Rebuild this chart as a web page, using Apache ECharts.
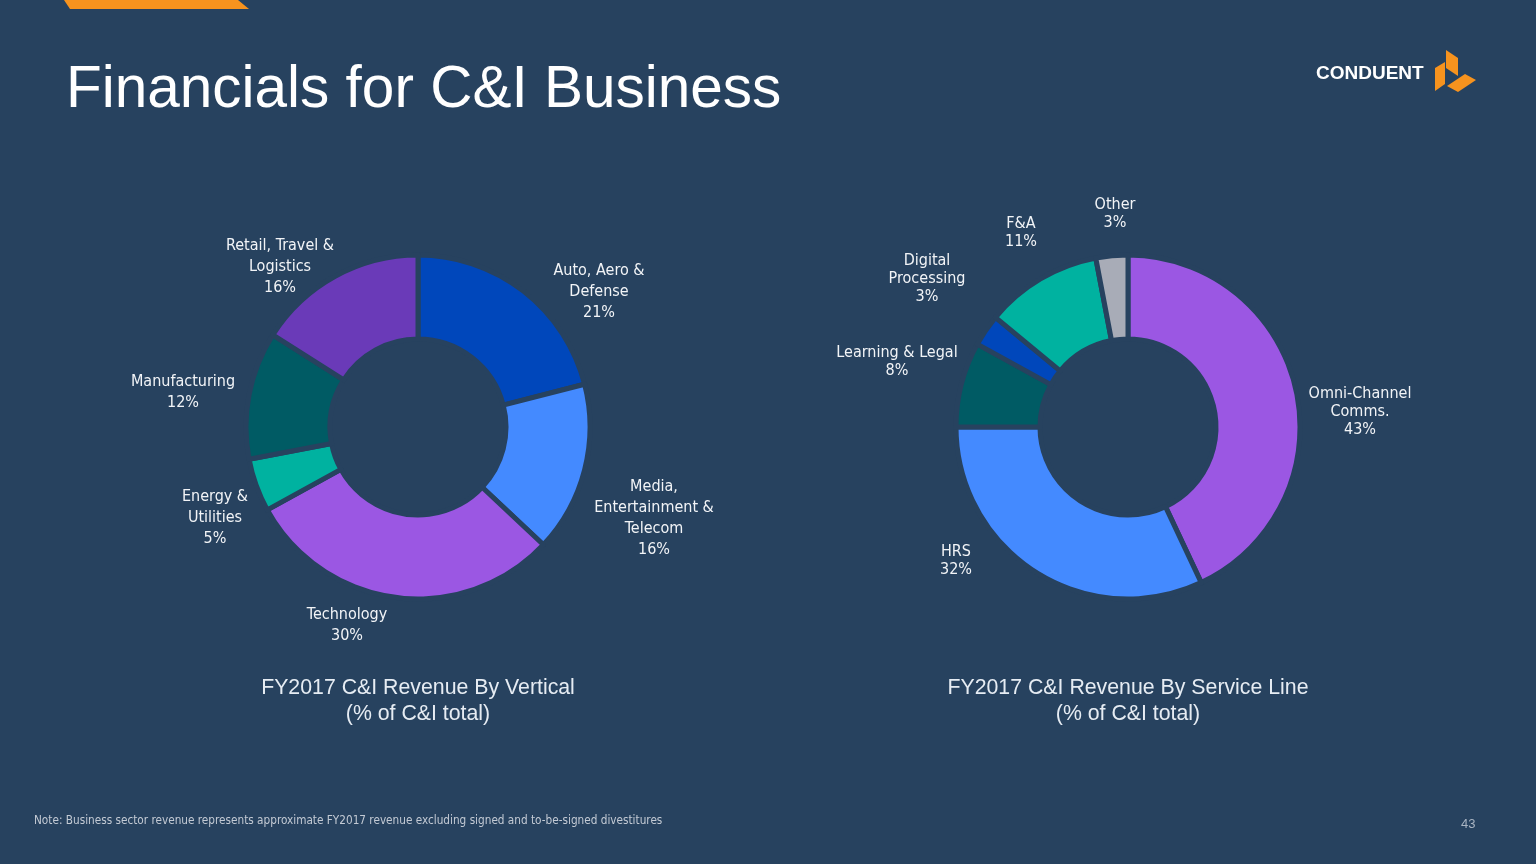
<!DOCTYPE html>
<html>
<head>
<meta charset="utf-8">
<style>
  html, body { margin: 0; padding: 0; background: #27425f; }
  #chart { width: 1536px; height: 864px; }
</style>
<script src="https://cdn.jsdelivr.net/npm/echarts@6/dist/echarts.min.js"></script>
</head>
<body>
<div id="chart"></div>
<script>
// ---- Data ----
const verticalCategories = ['Auto, Aero &\nDefense', 'Media,\nEntertainment &\nTelecom', 'Technology', 'Energy &\nUtilities', 'Manufacturing', 'Retail, Travel &\nLogistics'];
const verticalValues = [21, 16, 30, 5, 12, 16];
const serviceCategories = ['Omni-Channel\nComms.', 'HRS', 'Learning & Legal', 'Digital\nProcessing', 'F&A', 'Other'];
const serviceValues = [43, 32, 8, 3, 11, 3];

const verticalColors = ['#0047bb', '#448aff', '#9b57e3', '#00b2a0', '#005b64', '#6a3ab8'];
const serviceColors = ['#9b57e3', '#448aff', '#005b64', '#0047bb', '#00b2a0', '#a8acb7'];

// label anchor offsets (relative to each pie centre)
const verticalLabelOffsets = [[181, -135], [236, 91], [-71, 198], [-203, 91], [-235, -35], [-138, -160]];
const serviceLabelOffsets = [[232, -15], [-172, 134], [-231, -65], [-201, -148], [-107, -194], [-13, -213]];

const BG = '#27425f';
const labelFont = "'Liberation Sans Narrow', 'DejaVu Sans Condensed', 'Liberation Sans', sans-serif";
const leftCenter = [418, 427];
const rightCenter = [1128, 427];

function makeData(cats, vals, colors) {
  return cats.map((c, i) => ({ name: c, value: vals[i], itemStyle: { color: colors[i] } }));
}

function pieSeries(cats, vals, colors, center, offsets, lineHeight) {
  return {
    type: 'pie',
    center: center,
    radius: [88, 172],
    startAngle: 90,
    clockwise: true,
    silent: true,
    avoidLabelOverlap: false,
    itemStyle: { borderColor: BG, borderWidth: 5 },
    label: {
      show: true,
      position: 'outside',
      formatter: p => p.name + '\n' + p.value + '%',
      color: '#f2f4f7',
      fontFamily: labelFont,
      fontSize: 16,
      lineHeight: lineHeight,
      align: 'center'
    },
    labelLine: { show: false },
    labelLayout: function (params) {
      const o = offsets[params.dataIndex];
      return { x: center[0] + o[0], y: center[1] + o[1], align: 'center', verticalAlign: 'middle' };
    },
    data: makeData(cats, vals, colors)
  };
}

const chart = echarts.init(document.getElementById('chart'), null, { renderer: 'canvas' });
chart.setOption({
  backgroundColor: BG,
  animation: false,
  title: [
    {
      text: 'Financials for C&I Business',
      left: 61, top: 56,
      textStyle: { color: '#ffffff', fontFamily: "'Liberation Sans', Arial, sans-serif", fontSize: 58.5, fontWeight: 'normal' }
    },
    {
      text: 'FY2017 C&I Revenue By Vertical\n(% of C&I total)',
      left: 413, top: 670, textAlign: 'center',
      textStyle: { color: '#e6ecf3', fontFamily: "'Liberation Sans', Arial, sans-serif", fontSize: 21.3, fontWeight: 'normal', lineHeight: 26, align: 'center' }
    },
    {
      text: 'FY2017 C&I Revenue By Service Line\n(% of C&I total)',
      left: 1123, top: 670, textAlign: 'center',
      textStyle: { color: '#e6ecf3', fontFamily: "'Liberation Sans', Arial, sans-serif", fontSize: 21.3, fontWeight: 'normal', lineHeight: 26, align: 'center' }
    }
  ],
  graphic: [
    { type: 'polygon', shape: { points: [[64, 0], [238, 0], [249, 9], [70, 9]] }, style: { fill: '#f7931e' } },
    { type: 'text', x: 1316, y: 64, style: { text: 'CONDUENT', fill: '#ffffff', font: "bold 19px 'Liberation Sans', Arial, sans-serif" } },
    { type: 'polygon', shape: { points: [[1446, 50], [1458, 58], [1458, 76], [1446, 68]] }, style: { fill: '#f7931e' } },
    { type: 'polygon', shape: { points: [[1435, 68], [1445, 62], [1445, 84], [1435, 91]] }, style: { fill: '#f7931e' } },
    { type: 'polygon', shape: { points: [[1447, 86], [1465, 74], [1476, 80], [1458, 92]] }, style: { fill: '#f7931e' } },
    { type: 'text', x: 34, y: 815, style: { text: 'Note: Business sector revenue represents approximate FY2017 revenue excluding signed and to-be-signed divestitures', fill: '#c3cad4', font: "11.7px " + labelFont } },
    { type: 'text', x: 1461, y: 818, style: { text: '43', fill: '#a9b4c2', font: "13px 'Liberation Sans', Arial, sans-serif" } }
  ],
  series: [
    pieSeries(verticalCategories, verticalValues, verticalColors, leftCenter, verticalLabelOffsets, 21),
    pieSeries(serviceCategories, serviceValues, serviceColors, rightCenter, serviceLabelOffsets, 18)
  ]
});
</script>
</body>
</html>
